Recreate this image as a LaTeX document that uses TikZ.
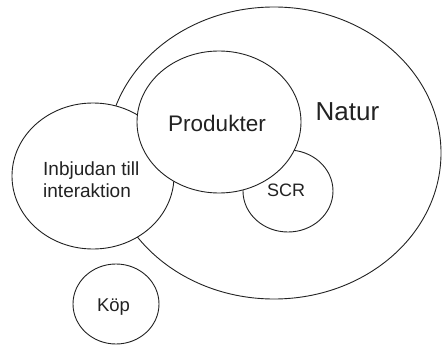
\documentclass[tikz,border=0pt]{standalone}
\usepackage{fontspec}
\setmainfont{Liberation Sans}
\usetikzlibrary{shapes.geometric}
\definecolor{ink}{HTML}{222222}
\tikzset{
  blob/.style={ellipse, draw=ink, line width=0.9pt, fill=white, inner sep=0pt},
  lbl/.style={text=ink, inner sep=0pt, anchor=base}
}
\begin{document}
\begin{tikzpicture}[x=1pt, y=-1pt]
\useasboundingbox (0,0) rectangle (442,345);
% circles, back to front
\node[blob, minimum width=334pt, minimum height=292pt] (natur) at (274,153) {};
\node[blob, minimum width=162pt, minimum height=146pt] (inbjudan) at (93,176) {};
\node[blob, minimum width=90pt, minimum height=82pt] (scr) at (288,191) {};
\node[blob, minimum width=164pt, minimum height=142pt] (produkter) at (219,122) {};
\node[blob, minimum width=86pt, minimum height=80pt] (kop) at (116,304) {};
% labels
\node[lbl, font=\fontsize{26}{30}\selectfont] (naturtxt) at (347.5,121) {Natur};
\node[lbl, font=\fontsize{22.5}{26}\selectfont] (produktertxt) at (217,131) {Produkter};
\node[lbl, anchor=base west, font=\fontsize{19}{22}\selectfont] (inb1) at (43,175) {Inbjudan till};
\node[lbl, anchor=base west, font=\fontsize{19}{22}\selectfont] (inb2) at (43,197) {interaktion};
\node[lbl, font=\fontsize{18}{22}\selectfont] (scrtxt) at (286,196) {SCR};
\node[lbl, font=\fontsize{18.5}{22}\selectfont] (koptxt) at (113.5,311) {Köp};
\end{tikzpicture}
\end{document}
